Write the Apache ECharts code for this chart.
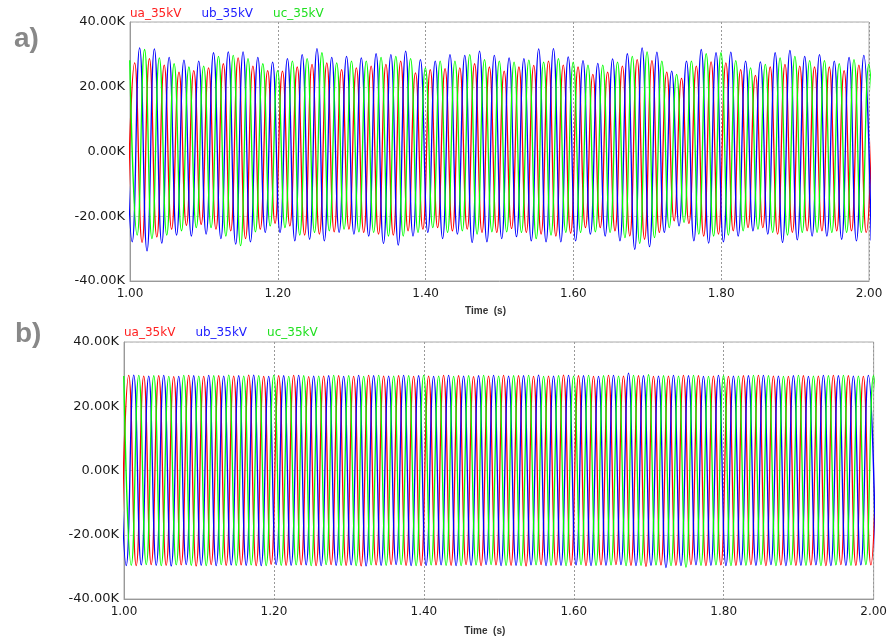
<!DOCTYPE html>
<html>
<head>
<meta charset="utf-8">
<script src="https://cdn.jsdelivr.net/npm/echarts@6/dist/echarts.min.js"></script>
<style>
html,body{margin:0;padding:0;background:#fff;}
#chart{width:890px;height:637px;}
</style>
</head>
<body>
<div id="chart"></div>
<script>
// ---- axis ticks ----
const xTicks = [1.00, 1.20, 1.40, 1.60, 1.80, 2.00];
const yTicks = [-40, -20, 0, 20, 40]; // in K (thousands)
const seriesNames = ['ua_35kV', 'ub_35kV', 'uc_35kV'];
const seriesColors = ['#ff0000', '#0000ff', '#00ff00'];
const legendColors = ['#ff2020', '#2020ff', '#20e020'];

// ---- time of first extremum for each phase (s); extrema repeat every PERIOD ----
const PERIOD = 0.02;
const uaPeakT0 = 1.0063, uaTroughT0 = 0.9963;
const ubPeakT0 = 0.9930, ubTroughT0 = 1.0030;
const ucPeakT0 = 0.9997, ucTroughT0 = 1.0097;

// ---- panel a) : peak / trough values per cycle (K) ----
const uaPeaksA = [27.4, 28.7, 26.7, 24.5, 25.0, 25.8, 27.1, 28.9, 26.4, 25.0,
  24.8, 26.1, 26.9, 27.4, 25.3, 25.8, 26.4, 26.9, 27.9, 24.3,
  25.3, 25.6, 25.8, 27.1, 26.1,
  24.8, 26.1, 26.6, 27.9, 26.7, 26.1, 23.8, 24.5, 26.4, 28.4,
  28.1, 24.5, 22.6, 26.4, 27.7, 27.4, 25.3, 23.5, 26.1, 26.9,
  26.4, 26.1, 26.1, 25.0, 26.7, 27.0];
const uaTroughsA = [-25.5,
  -28.1, -26.4, -24.0, -22.8, -22.5, -24.0, -24.5, -26.9, -24.0, -22.2,
  -23.0, -25.8, -25.5, -24.8, -24.0, -25.0, -25.5, -25.8, -24.5, -24.0,
  -23.5, -24.5, -24.0, -25.0, -25.0,
  -23.8, -25.0, -25.5, -26.1, -25.2, -23.5, -23.5, -24.5, -26.1, -27.1,
  -25.0, -21.4, -22.2, -26.1, -25.5, -24.5, -23.5, -23.5, -25.5, -25.0,
  -24.5, -24.5, -24.5, -24.5, -25.0];
const ubPeaksA = [30.5,
  32.0, 31.7, 29.1, 28.2, 27.9, 30.5, 30.8, 30.8, 29.1, 27.6,
  28.7, 29.9, 31.8, 29.1, 29.4, 28.9, 30.2, 29.9, 31.0, 28.4,
  27.9, 29.9, 29.7, 31.0, 29.7,
  28.9, 28.7, 31.7, 31.8, 29.2, 28.1, 27.2, 28.6, 30.2, 32.0,
  30.7, 24.8, 27.9, 31.5, 30.5, 30.7, 27.9, 27.7, 30.5, 31.2,
  29.4, 29.9, 27.9, 29.1, 29.7];
const ubTroughsA = [-27.9, -30.7, -28.3, -25.8, -26.1, -25.5, -26.9, -28.6, -27.9, -25.0,
  -25.0, -27.6, -27.1, -27.6, -25.0, -25.5, -26.1, -28.4, -28.9, -26.1,
  -25.0, -26.9, -25.5, -28.1, -27.9,
  -26.9, -26.3, -27.6, -27.9, -27.9, -27.6, -25.5, -26.1, -27.6, -30.2,
  -29.4, -25.0, -23.0, -27.6, -28.3, -27.9, -26.1, -24.5, -25.5, -28.1,
  -27.3, -26.1, -26.1, -27.1, -27.6, -27.5];
const ucPeaksA = [28.2, 31.5, 28.9, 27.1, 26.1, 26.4, 29.4, 29.7, 28.7, 27.1,
  25.0, 27.9, 28.7, 30.5, 27.4, 27.9, 27.9, 29.1, 29.4, 28.7,
  25.8, 27.9, 27.9, 29.9, 28.4,
  27.9, 27.6, 28.2, 27.6, 28.7, 27.6, 26.7, 26.7, 27.6, 29.4,
  30.8, 27.9, 23.8, 27.9, 30.2, 30.5, 28.1, 25.8, 26.9, 28.9,
  29.4, 28.1, 28.1, 27.1, 28.4, 26.9];
const ucTroughsA = [-25.8, -26.9, -25.8, -24.5, -23.5, -23.5, -26.1, -29.1, -24.8, -23.0,
  -23.5, -25.8, -25.0, -24.5, -24.0, -24.8, -25.0, -26.1, -26.1, -25.0,
  -23.5, -25.0, -24.5, -25.5, -24.8,
  -24.8, -25.0, -26.9, -25.8, -25.0, -25.0, -24.8, -25.0, -26.6, -28.4,
  -26.6, -23.5, -21.9, -25.5, -26.1, -25.8, -24.5, -24.0, -25.0, -25.8,
  -25.0, -25.0, -25.0, -25.0, -25.0, -25.2];

// ---- panel b) : peak / trough values per cycle (K) ----
const uaPeaksB = [29.6, 29.4, 29.5, 29.2, 29.6, 29.3, 29.5, 29.4, 29.7, 29.3,
  29.5, 29.6, 29.2, 29.4, 29.5, 29.3, 29.6, 29.4, 29.5, 29.3,
  29.4, 29.6, 29.5, 29.2, 29.4, 29.6, 29.5, 29.3, 29.4, 29.7,
  29.5, 29.3, 29.6, 29.4, 29.5, 29.3, 29.4, 29.6, 29.5, 29.4,
  29.3, 29.5, 29.6, 29.4, 29.3, 29.5, 29.4, 29.6, 29.5, 29.3, 29.5];
const uaTroughsB = [-29.4, -29.6, -29.3, -29.5, -29.4, -29.7, -29.3, -29.5, -29.4, -29.6,
  -29.2, -29.5, -29.4, -29.6, -29.3, -29.5, -29.7, -29.4, -29.3, -29.5,
  -29.6, -29.4, -29.5, -29.3, -29.6, -29.4, -29.5, -29.7, -29.3, -29.4,
  -29.5, -29.6, -29.4, -29.3, -29.5, -29.8, -29.4, -29.5, -29.3, -29.6,
  -29.4, -29.5, -29.3, -29.6, -29.4, -29.5, -29.4, -29.6, -29.3, -29.5, -29.4];
const ubPeaksB = [29.5, 29.7, 29.4, 29.6, 29.3, 29.5, 29.6, 29.4, 29.5, 29.7,
  29.3, 29.5, 29.6, 29.4, 29.5, 29.3, 29.6, 29.5, 29.4, 29.6,
  29.5, 29.3, 29.6, 29.4, 29.5, 29.6, 29.4, 29.5, 29.7, 29.4,
  29.6, 29.5, 29.3, 29.6, 30.3, 29.5, 29.4, 29.6, 29.5, 29.3,
  29.6, 29.4, 29.5, 29.6, 29.4, 29.5, 29.3, 29.6, 29.5, 29.4, 29.6];
const ubTroughsB = [-29.6, -29.4, -29.5, -29.7, -29.3, -29.5, -29.6, -29.4, -29.5, -29.6,
  -29.3, -29.5, -29.4, -29.6, -29.5, -29.4, -29.7, -29.5, -29.3, -29.6,
  -29.5, -29.4, -29.6, -29.5, -29.3, -29.6, -29.5, -29.4, -29.6, -29.5,
  -29.4, -29.6, -29.5, -29.3, -29.6, -29.5, -30.2, -29.6, -29.4, -29.5,
  -29.6, -29.4, -29.5, -29.3, -29.6, -29.5, -29.4, -29.6, -29.5, -29.4, -29.5];
const ucPeaksB = [29.4, 29.6, 29.5, 29.3, 29.6, 29.4, 29.5, 29.7, 29.4, 29.5,
  29.6, 29.3, 29.5, 29.4, 29.6, 29.5, 29.3, 29.6, 29.4, 29.5,
  29.6, 29.4, 29.3, 29.5, 29.6, 29.4, 29.5, 29.6, 29.3, 29.5,
  29.4, 29.6, 29.5, 29.4, 29.6, 29.8, 29.5, 29.4, 29.6, 29.3,
  29.5, 29.4, 29.6, 29.5, 29.3, 29.6, 29.4, 29.5, 29.6, 29.4, 29.5];
const ucTroughsB = [-29.5, -29.3, -29.6, -29.4, -29.5, -29.6, -29.3, -29.5, -29.4, -29.6,
  -29.5, -29.4, -29.6, -29.3, -29.5, -29.6, -29.4, -29.5, -29.3, -29.6,
  -29.4, -29.5, -29.6, -29.4, -29.3, -29.5, -29.6, -29.4, -29.5, -29.6,
  -29.3, -29.5, -29.4, -29.6, -29.5, -29.4, -29.6, -30.1, -29.5, -29.4,
  -29.6, -29.5, -29.3, -29.6, -29.4, -29.5, -29.6, -29.4, -29.5, -29.3, -29.6];

// ---- build [time, value] pairs from extrema arrays ----
function wave(peaks, peakT0, troughs, troughT0) {
  const pts = [];
  peaks.forEach((v, k) => pts.push([peakT0 + PERIOD * k, v]));
  troughs.forEach((v, k) => pts.push([troughT0 + PERIOD * k, v]));
  pts.sort((a, b) => a[0] - b[0]);
  return pts;
}
const panelA = [
  wave(uaPeaksA, uaPeakT0, uaTroughsA, uaTroughT0),
  wave(ubPeaksA, ubPeakT0, ubTroughsA, ubTroughT0),
  wave(ucPeaksA, ucPeakT0, ucTroughsA, ucTroughT0)
];
const panelB = [
  wave(uaPeaksB, uaPeakT0, uaTroughsB, uaTroughT0),
  wave(ubPeaksB, ubPeakT0, ubTroughsB, ubTroughT0),
  wave(ucPeaksB, ucPeakT0, ucTroughsB, ucTroughT0)
];

const FONT = '"DejaVu Sans", sans-serif';
const FONT2 = '"Liberation Sans", Arial, sans-serif';
const grids = [
  {left: 130, top: 22, width: 739, height: 259},
  {left: 124, top: 342, width: 752, height: 260}
];

function xAxisFor(i) {
  return {
    type: 'value', gridIndex: i,
    min: xTicks[0], max: xTicks[xTicks.length - 1], interval: 0.2,
    name: 'Time  (s)', nameLocation: 'middle', nameGap: i === 0 ? 25 : 27,
    nameTextStyle: {fontFamily: FONT2, fontSize: 10, fontWeight: 'bold', color: '#333',
      padding: [0, 28, 0, 0]},
    axisLine: {show: true, onZero: false, lineStyle: {color: '#999', width: 1}},
    axisTick: {show: false},
    axisLabel: {fontFamily: FONT, fontSize: 12, color: '#1a1a1a', margin: 7,
      formatter: v => v.toFixed(2)},
    splitLine: {show: true, lineStyle: {color: '#999', type: [2, 2], width: 1}}
  };
}
function yAxisFor(i) {
  return {
    type: 'value', gridIndex: i,
    min: yTicks[0], max: yTicks[yTicks.length - 1], interval: 20,
    axisLine: {show: true, onZero: false, lineStyle: {color: '#999', width: 1}},
    axisTick: {show: false},
    axisLabel: {fontFamily: FONT, fontSize: 13, color: '#1a1a1a', margin: 5,
      formatter: v => v.toFixed(2) + 'K'},
    splitLine: {show: true, lineStyle: {color: '#ccc', type: [3, 3], width: 1}}
  };
}

const series = [];
[panelA, panelB].forEach((panel, gi) => {
  panel.forEach((data, si) => {
    series.push({
      name: seriesNames[si], type: 'line', xAxisIndex: gi, yAxisIndex: gi,
      data: data, smooth: 0.5, showSymbol: false, symbol: 'none',
      lineStyle: {color: seriesColors[si], width: 1.3},
      itemStyle: {color: seriesColors[si]},
      clip: true, animation: false
    });
  });
});

function legendFor(i, left, top) {
  return {
    left: left, top: top, orient: 'horizontal', icon: 'none',
    itemWidth: 0, itemHeight: 0, itemGap: 20, padding: 0,
    selectedMode: false,
    data: seriesNames.map((n, si) => ({name: n, textStyle: {color: legendColors[si]}})),
    textStyle: {fontFamily: FONT, fontSize: 12, padding: [0, 0, 0, -5]}
  };
}

const chart = echarts.init(document.getElementById('chart'), null, {renderer: 'canvas'});
chart.setOption({
  animation: false,
  backgroundColor: '#ffffff',
  grid: grids.map(g => Object.assign({show: true, borderColor: '#aaa', borderWidth: 1, backgroundColor: 'transparent'}, g)),
  xAxis: [xAxisFor(0), xAxisFor(1)],
  yAxis: [yAxisFor(0), yAxisFor(1)],
  legend: [legendFor(0, 130, 8), legendFor(1, 124, 327)],
  graphic: [
    {type: 'text', left: 14, top: 25, style: {text: 'a)', font: 'bold 28px ' + FONT2, fill: '#888'}},
    {type: 'text', left: 15, top: 320, style: {text: 'b)', font: 'bold 28px ' + FONT2, fill: '#888'}}
  ],
  series: series
});
</script>
</body>
</html>
